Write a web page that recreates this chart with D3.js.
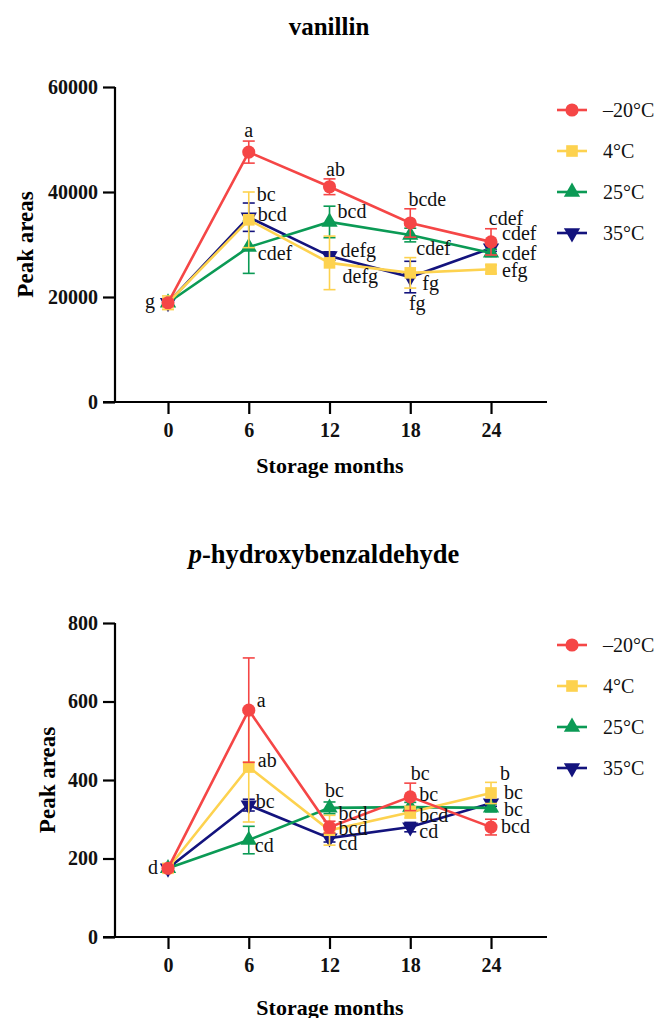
<!DOCTYPE html>
<html>
<head>
<meta charset="utf-8">
<script src="https://cdn.jsdelivr.net/npm/d3@7"></script>
<style>
  body { margin: 0; background: #fff; }
  svg { display: block; }
  svg text { font-family: "Liberation Serif", Tinos, "Times New Roman", Times, "DejaVu Serif", serif; }
</style>
</head>
<body>
<svg id="chart" width="667" height="1018"></svg>
<script>
// storage months (x axis)
const months = [0, 6, 12, 18, 24];
const seriesNames = ["–20°C", "4°C", "25°C", "35°C"];
const seriesColors = ["#f54646", "#fdd24f", "#0b9a55", "#13137d"];
const seriesShapes = ["circle", "square", "triangle", "triangleDown"];

// vanillin peak areas (mean, sd)
const vanMinus20 = [18900, 47600, 41000, 34100, 30500];
const vanMinus20Sd = [600, 2100, 1500, 2700, 2500];
const van4 = [18900, 34700, 26500, 24600, 25300];
const van4Sd = [1300, 5300, 5100, 2900, 800];
const van25 = [18900, 29500, 34300, 31800, 28400];
const van25Sd = [700, 5000, 3000, 1300, 700];
const van35 = [18900, 35200, 27800, 23800, 29300];
const van35Sd = [600, 2700, 800, 3000, 600];
const vanTicks = [0, 20000, 40000, 60000];
const vanLetters = [
  ["g", "a", "ab", "bcde", "cdef"],
  [null, "bc", "defg", "fg", "efg"],
  [null, "cdef", "bcd", "cdef", "cdef"],
  [null, "bcd", "defg", "fg", "cdef"]
];

// p-hydroxybenzaldehyde peak areas (mean, sd)
const hbMinus20 = [175, 578, 280, 357, 280];
const hbMinus20Sd = [8, 133, 15, 35, 20];
const hb4 = [175, 433, 272, 318, 367];
const hb4Sd = [8, 140, 38, 15, 27];
const hb25 = [175, 247, 329, 331, 329];
const hb25Sd = [8, 35, 15, 12, 10];
const hb35 = [175, 336, 252, 280, 341];
const hb35Sd = [8, 15, 10, 12, 8];
const hbTicks = [0, 200, 400, 600, 800];
const hbLetters = [
  ["d", "a", "bcd", "bc", "bcd"],
  [null, "ab", "bcd", "bcd", "b"],
  [null, "cd", "bc", "bc", "bc"],
  [null, "bc", "cd", "cd", "bc"]
];

// label placement relative to the point: [dx, dy, anchor]
const vanLabelPos = [
  [[-13, 5, "end"], [0, -15, "middle"], [6, -11, "middle"], [17, -17, "middle"], [11, -2, "start"]],
  [null, [8, -19, "start"], [13, 20, "start"], [12, 17, "start"], [11, 8, "start"]],
  [null, [9, 13, "start"], [8, -4, "start"], [6, 20, "start"], [11, 7, "start"]],
  [null, [9, 4, "start"], [11, 1, "start"], [7, 33, "middle"], [15, -23, "middle"]]
];
const hbLabelPos = [
  [[-10, 6, "end"], [8, -3, "start"], [9, -7, "start"], [9, 4, "start"], [10, 6, "start"]],
  [null, [9, 0, "start"], [9, 5, "start"], [9, 10, "start"], [9, -13, "start"]],
  [null, [6, 12, "start"], [5, -11, "middle"], [10, -27, "middle"], [13, 8, "start"]],
  [null, [7, 3, "start"], [9, 12, "start"], [9, 11, "start"], [13, -4, "start"]]
];

const svg = d3.select("#chart");

const x = d3.scaleLinear().domain([-4.83, 28.16]).range([103, 547]);

function symbolPath(shape) {
  if (shape == "circle") return d3.symbol(d3.symbolCircle, 135)();
  if (shape == "square") return d3.symbol(d3.symbolSquare, 135)();
  return d3.symbol(d3.symbolTriangle, 115)();
}

function drawPanel(p) {
  const g = svg.append("g");
  const y = d3.scaleLinear().domain([0, p.ticks[p.ticks.length - 1]]).range(p.yRange);

  // title
  const title = g.append("text")
    .attr("x", p.titleX).attr("y", p.titleY)
    .attr("text-anchor", "middle")
    .attr("font-size", p.titleSize).attr("font-weight", "bold");
  if (p.italicPrefix) {
    title.append("tspan").attr("font-style", "italic").text(p.italicPrefix);
  }
  title.append("tspan").text(p.title);

  // y axis
  const yAxis = g.append("g")
    .attr("transform", "translate(115,0)")
    .call(d3.axisLeft(y).tickValues(p.ticks).tickSize(12).tickPadding(5).tickFormat(d3.format("d")));
  yAxis.attr("font-family", null);
  yAxis.select(".domain").attr("stroke-width", 2.2).attr("d", "M0," + y(p.ticks[p.ticks.length - 1]) + "V" + y(0));
  yAxis.selectAll(".tick line").attr("stroke-width", 2.2);
  yAxis.selectAll(".tick text")
    .attr("font-size", 20).attr("font-weight", "bold").attr("fill", "#111");

  // x axis
  const xAxis = g.append("g")
    .attr("transform", "translate(0," + y(0) + ")")
    .call(d3.axisBottom(x).tickValues(months).tickSize(12).tickPadding(9));
  xAxis.attr("font-family", null);
  xAxis.select(".domain").attr("stroke-width", 2.2).attr("d", "M" + x.range()[0] + ",0H" + x.range()[1]);
  xAxis.selectAll(".tick line").attr("stroke-width", 2.2);
  xAxis.selectAll(".tick text")
    .attr("font-size", 20).attr("font-weight", "bold").attr("fill", "#111");

  g.append("text")
    .attr("x", 330).attr("y", p.xLabelY)
    .attr("text-anchor", "middle")
    .attr("font-size", 22).attr("font-weight", "bold")
    .text("Storage months");

  g.append("text")
    .attr("transform", "translate(" + p.yLabelX + "," + (y.range()[0] + y.range()[1]) / 2 + ") rotate(-90)")
    .attr("text-anchor", "middle")
    .attr("font-size", 23).attr("font-weight", "bold")
    .text("Peak areas");

  // series, drawn 35 -> -20 so -20 sits on top
  const line = d3.line().x((d, i) => x(months[i])).y(d => y(d));
  [3, 2, 1, 0].forEach(s => {
    const vals = p.means[s], sds = p.sds[s], col = seriesColors[s];
    const sg = g.append("g");
    sg.append("path").datum(vals)
      .attr("d", line).attr("fill", "none")
      .attr("stroke", col).attr("stroke-width", 2.6);
    const eb = sg.selectAll(".eb").data(vals).enter().append("g");
    eb.append("line")
      .attr("x1", (d, i) => x(months[i])).attr("x2", (d, i) => x(months[i]))
      .attr("y1", (d, i) => y(d - sds[i])).attr("y2", (d, i) => y(d + sds[i]))
      .attr("stroke", col).attr("stroke-width", 1.6);
    [-1, 1].forEach(sign => {
      eb.append("line")
        .attr("x1", (d, i) => x(months[i]) - 6).attr("x2", (d, i) => x(months[i]) + 6)
        .attr("y1", (d, i) => y(d + sign * sds[i])).attr("y2", (d, i) => y(d + sign * sds[i]))
        .attr("stroke", col).attr("stroke-width", 1.6);
    });
    sg.selectAll(".pt").data(vals).enter().append("path")
      .attr("d", symbolPath(seriesShapes[s]))
      .attr("transform", (d, i) => "translate(" + x(months[i]) + "," + y(d) + ")" +
        (seriesShapes[s] == "triangleDown" ? " rotate(180)" : ""))
      .attr("fill", col);
  });

  // significance letters
  [0, 1, 2, 3].forEach(s => {
    p.letters[s].forEach((t, i) => {
      if (!t) return;
      const pos = p.labelPos[s][i];
      g.append("text")
        .attr("x", x(months[i]) + pos[0])
        .attr("y", y(p.means[s][i]) + pos[1])
        .attr("text-anchor", pos[2])
        .attr("font-size", 20).attr("fill", "#111")
        .text(t);
    });
  });

  // legend
  seriesNames.forEach((name, s) => {
    const ly = p.legendY + s * 41;
    const lg = g.append("g");
    lg.append("line").attr("x1", 557).attr("x2", 587).attr("y1", ly).attr("y2", ly)
      .attr("stroke", seriesColors[s]).attr("stroke-width", 2.6);
    lg.append("path").attr("d", symbolPath(seriesShapes[s]))
      .attr("transform", "translate(572," + ly + ")" + (seriesShapes[s] == "triangleDown" ? " rotate(180)" : ""))
      .attr("fill", seriesColors[s]);
    lg.append("text").attr("x", 603).attr("y", ly + 7)
      .attr("font-size", 20).attr("fill", "#111")
      .text(name);
  });
}

drawPanel({
  title: "vanillin", titleX: 329, titleY: 35, titleSize: 25,
  ticks: vanTicks, yRange: [402, 87],
  means: [vanMinus20, van4, van25, van35],
  sds: [vanMinus20Sd, van4Sd, van25Sd, van35Sd],
  letters: vanLetters, labelPos: vanLabelPos,
  xLabelY: 473, yLabelX: 33, legendY: 110
});

drawPanel({
  italicPrefix: "p", title: "-hydroxybenzaldehyde", titleX: 324, titleY: 563, titleSize: 26.5,
  ticks: hbTicks, yRange: [937, 623],
  means: [hbMinus20, hb4, hb25, hb35],
  sds: [hbMinus20Sd, hb4Sd, hb25Sd, hb35Sd],
  letters: hbLetters, labelPos: hbLabelPos,
  xLabelY: 1015, yLabelX: 55, legendY: 645
});
</script>
</body>
</html>
